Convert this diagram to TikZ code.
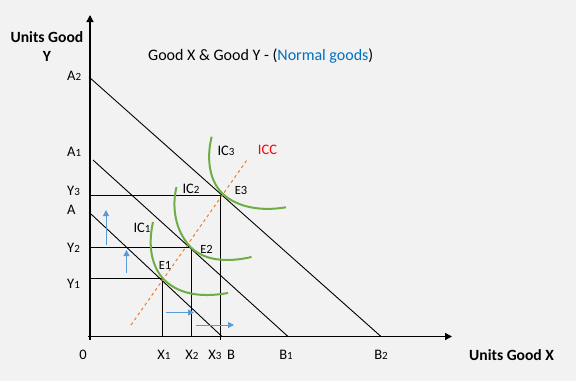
\documentclass[tikz,border=0pt]{standalone}
\usepackage{fontspec}
\setmainfont{Carlito}
\usetikzlibrary{arrows.meta}

\definecolor{bggray}{RGB}{242,242,242}
\definecolor{icgreen}{RGB}{112,173,71}
\definecolor{iccorange}{RGB}{237,125,49}
\definecolor{shiftblue}{RGB}{91,155,213}
\definecolor{normalblue}{RGB}{0,112,192}

\newcommand{\sub}[1]{{\fontsize{11}{11}\selectfont #1}}

\tikzset{
    axis/.style={line width=1.3pt, -{Triangle[length=7pt, width=7pt]}},
    budget/.style={line width=0.9pt},
    guide/.style={line width=1pt},
    ic/.style={icgreen, line width=2pt},
    icc/.style={iccorange, line width=1pt, dash pattern=on 3pt off 3pt},
    shiftarrow/.style={shiftblue, line width=1pt, -{Triangle[length=6pt, width=6pt]}},
    lbl/.style={font=\fontsize{14.5}{14.5}\selectfont, inner sep=0pt},
    elbl/.style={font=\fontsize{12.5}{12.5}\selectfont, inner sep=0pt},
    axlbl/.style={font=\fontsize{15.6}{19}\selectfont\bfseries, inner sep=0pt, align=center}
}

\begin{document}
\begin{tikzpicture}[x=1pt, y=-1pt]
    \fill [bggray] (0,0) rectangle (576,381);
    \useasboundingbox (0,0) rectangle (576,381);

    % axes
    \coordinate (O) at (90,336.5);
    \coordinate (ybot) at (90,339.5);
    \coordinate (xbeg) at (88,336.5);
    \coordinate (ytop) at (90,15);
    \coordinate (xend) at (452,336.5);
    \draw [axis] (ybot) -- (ytop);
    \draw [axis] (xbeg) -- (xend);

    % budget lines
    \coordinate (pA)  at (91,214);
    \coordinate (pB)  at (222,336.5);
    \coordinate (pA1) at (93,160);
    \coordinate (pB1) at (288,336.5);
    \coordinate (pA2) at (89,77);
    \coordinate (pB2) at (381,336.5);
    \draw [budget] (pA) -- (pB);
    \draw [budget] (pA1) -- (pB1);
    \draw [budget] (pA2) -- (pB2);

    % equilibrium points and the lines to the axes
    \coordinate (E1) at (162.5,278);
    \coordinate (E2) at (191,247.5);
    \coordinate (E3) at (220.5,195.5);
    \draw [guide] (O |- E1) -- (E1) -- (E1 |- O);
    \draw [guide] (O |- E2) -- (E2) -- (E2 |- O);
    \draw [guide] (O |- E3) -- (E3) -- (E3 |- ybot);

    % income consumption curve
    \coordinate (iccS) at (131,325);
    \coordinate (iccE) at (247,160);
    \draw [icc] (iccS) -- (iccE);

    % indifference curves
    \draw [ic] (153,222) .. controls (149,240) and (149,262) .. (E1)
               .. controls (177,294) and (200,298) .. (228,293);
    \draw [ic] (176.5,187) .. controls (172,205) and (174,230) .. (E2)
               .. controls (204,260) and (225,263) .. (251.5,257);
    \draw [ic] (211.7,136.7) .. controls (207,155) and (208,178) .. (221,192)
               .. controls (234,206) and (258,212) .. (286,207.3);

    % shift arrows
    \coordinate (up1s) at (106,245);
    \coordinate (up1e) at (106,210);
    \coordinate (up2s) at (126.5,273);
    \coordinate (up2e) at (126.5,250);
    \coordinate (rt1s) at (166,312.5);
    \coordinate (rt1e) at (194,312.5);
    \coordinate (rt2s) at (196,325);
    \coordinate (rt2e) at (234,325);
    \draw [shiftarrow] (up1s) -- (up1e);
    \draw [shiftarrow] (up2s) -- (up2e);
    \draw [shiftarrow] (rt1s) -- (rt1e);
    \draw [shiftarrow] (rt2s) -- (rt2e);

    % labels on the y axis
    \node [lbl, anchor=west] (labA2) at (67,76)  {A\sub{2}};
    \node [lbl, anchor=west] (labA1) at (67,152) {A\sub{1}};
    \node [lbl, anchor=west] (labY3) at (67,190.5) {Y\sub{3}};
    \node [lbl, anchor=west] (labA)  at (67,210) {A};
    \node [lbl, anchor=west] (labY2) at (67,248) {Y\sub{2}};
    \node [lbl, anchor=west] (labY1) at (67,284) {Y\sub{1}};

    % labels on the x axis
    \node [lbl] (lab0)  at (83,355)  {0};
    \node [lbl] (labX1) at (164,355) {X\sub{1}};
    \node [lbl] (labX2) at (192,355) {X\sub{2}};
    \node [lbl] (labX3) at (215,355) {X\sub{3}};
    \node [lbl] (labB)  at (231,355) {B};
    \node [lbl] (labB1) at (286,355) {B\sub{1}};
    \node [lbl] (labB2) at (381,355) {B\sub{2}};

    % curve labels
    \node [lbl] (labIC1) at (142,228) {IC\sub{1}};
    \node [lbl] (labIC2) at (191,189) {IC\sub{2}};
    \node [lbl] (labIC3) at (226,151) {IC\sub{3}};
    \node [lbl, text=red] (labICC) at (267.5,150) {ICC};
    \node [elbl] (labE1) at (165,265) {E1};
    \node [elbl] (labE2) at (206.5,249) {E2};
    \node [elbl] (labE3) at (241,190) {E3};

    % axis titles and heading
    \node [axlbl] (ytitle) at (47,46.5) {Units Good\\Y};
    \node [axlbl, anchor=west] (xtitle) at (469,355) {Units Good X};
    \node [lbl, font=\fontsize{16}{16}\selectfont, anchor=west] (heading) at (148,56)
        {Good X \& Good Y - (\textcolor{normalblue}{Normal goods})};
\end{tikzpicture}
\end{document}
